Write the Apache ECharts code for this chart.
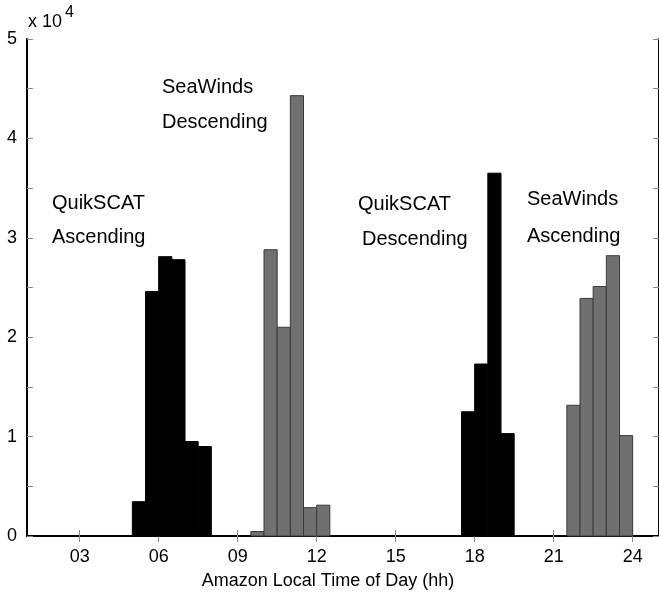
<!DOCTYPE html>
<html lang="en">
<head>
    <meta charset="UTF-8">
    <title>Amazon local time histogram</title>
    <script src="https://cdn.jsdelivr.net/npm/echarts@6/dist/echarts.min.js"></script>
    <style>
        html, body { margin: 0; padding: 0; background: #fff; }
    </style>
</head>
<body>
<div id="main" style="width: 659px;height: 599px;"></div>
<script type="text/javascript">
    // bin start (hour) and count, bins are half an hour wide
    var binWidth = 0.5;
    var quikscatBins = [5.0, 5.5, 6.0, 6.5, 7.0, 7.5, 17.5, 18.0, 18.5, 19.0];
    var quikscatCounts = [3450, 24600, 28100, 27800, 9500, 9000, 12500, 17300, 36500, 10300];
    var seawindsBins = [9.5, 10.0, 10.5, 11.0, 11.5, 12.0, 21.5, 22.0, 22.5, 23.0, 23.5];
    var seawindsCounts = [450, 28800, 21000, 44300, 2850, 3100, 13150, 23900, 25100, 28200, 10100];
    var hourTicks = [3, 6, 9, 12, 15, 18, 21, 24];

    var myChart = echarts.init(document.getElementById('main'));
    var fontName = 'Liberation Sans';

    function pairs(xs, ys) {
        var out = [];
        for (var i = 0; i < xs.length; i++) {
            out.push([xs[i], ys[i]]);
        }
        return out;
    }

    function makeRender(fill, stroke) {
        return function (params, api) {
            var x0 = api.value(0);
            var h = api.value(1);
            var p0 = api.coord([x0, h]);
            var p1 = api.coord([x0 + binWidth, 0]);
            return {
                type: 'rect',
                shape: {x: p0[0], y: p0[1], width: p1[0] - p0[0], height: p1[1] - p0[1]},
                style: {fill: fill, stroke: stroke, lineWidth: 1}
            };
        };
    }

    function txt(s, x, y, size) {
        return {
            type: 'text',
            left: x,
            top: y,
            style: {text: s, fill: '#000', font: (size || 18) + 'px ' + fontName}
        };
    }

    var tickStyle = {show: true, inside: true, length: 6, lineStyle: {color: '#888', width: 1}};

    myChart.setOption({
        animation: false,
        textStyle: {fontFamily: fontName},
        grid: {left: 27, top: 39, right: -3, bottom: 63},
        xAxis: [{
            type: 'value',
            min: 1,
            max: 25,
            position: 'bottom',
            splitLine: {show: false},
            axisLine: {lineStyle: {color: '#000', width: 2}},
            axisTick: {show: true, inside: true, length: 6, lineStyle: {color: '#888', width: 1}, customValues: hourTicks},
            axisLabel: {
                customValues: hourTicks,
                color: '#000',
                fontSize: 18,
                fontFamily: fontName,
                margin: 12,
                formatter: function (v) { return (v < 10 ? '0' : '') + v; }
            },
            name: 'Amazon Local Time of Day (hh)',
            nameLocation: 'middle',
            nameGap: 36,
            nameTextStyle: {color: '#000', fontSize: 18, fontFamily: fontName, padding: [0, 30, 0, 0]}
        }, {
            type: 'value',
            min: 1,
            max: 25,
            position: 'top',
            splitLine: {show: false},
            axisLine: {lineStyle: {color: '#000', width: 2}},
            axisTick: {show: true, inside: true, length: 6, lineStyle: {color: '#888', width: 1}, customValues: hourTicks},
            axisLabel: {show: false}
        }],
        yAxis: [{
            type: 'value',
            min: 0,
            max: 50000,
            interval: 5000,
            position: 'left',
            splitLine: {show: false},
            axisLine: {show: true, lineStyle: {color: '#000', width: 2}},
            axisTick: tickStyle,
            axisLabel: {
                color: '#000',
                fontSize: 18,
                fontFamily: fontName,
                margin: 10,
                formatter: function (v) { return v % 10000 === 0 ? String(v / 10000) : ''; }
            }
        }, {
            type: 'value',
            min: 0,
            max: 50000,
            interval: 5000,
            position: 'right',
            splitLine: {show: false},
            axisLine: {show: true, lineStyle: {color: '#000', width: 2}},
            axisTick: tickStyle,
            axisLabel: {show: false}
        }],
        series: [{
            name: 'QuikSCAT',
            type: 'custom',
            renderItem: makeRender('#000000', '#000000'),
            data: pairs(quikscatBins, quikscatCounts)
        }, {
            name: 'SeaWinds',
            type: 'custom',
            renderItem: makeRender('#707070', '#3a3a3a'),
            data: pairs(seawindsBins, seawindsCounts)
        }],
        graphic: [
            txt('x 10', 28, 13, 18),
            txt('4', 65, 5, 16),
            txt('QuikSCAT', 52, 193, 20),
            txt('Ascending', 52, 227, 20),
            txt('SeaWinds', 162, 77, 20),
            txt('Descending', 162, 112, 20),
            txt('QuikSCAT', 358, 194, 20),
            txt('Descending', 362, 229, 20),
            txt('SeaWinds', 527, 189, 20),
            txt('Ascending', 527, 226, 20)
        ]
    });
</script>
</body>
</html>
